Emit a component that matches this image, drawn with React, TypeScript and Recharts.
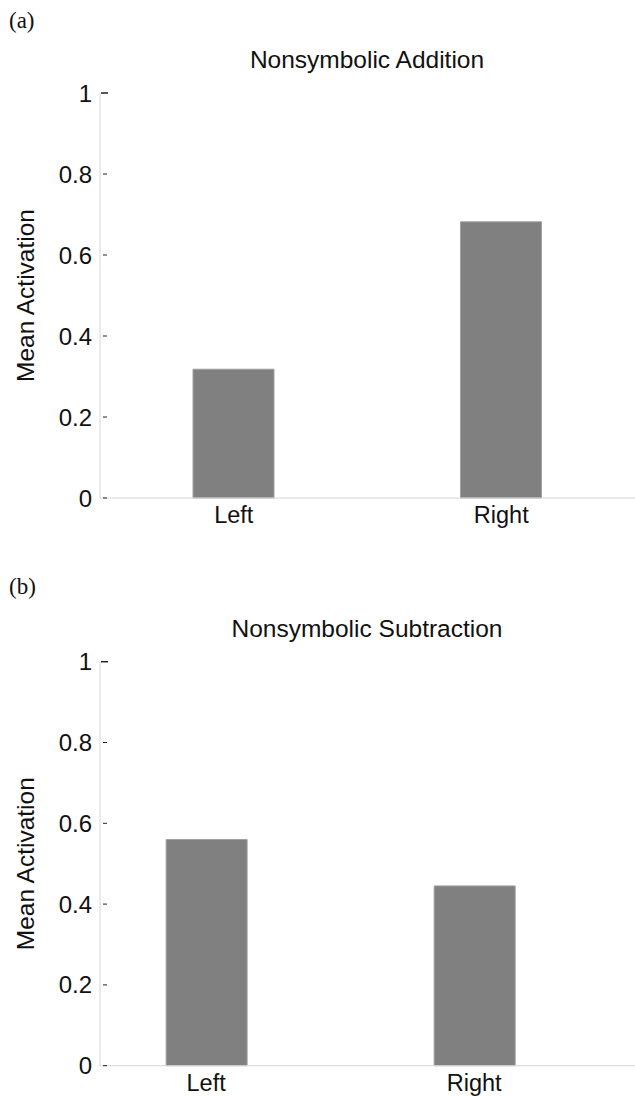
import React from 'react';
import { BarChart, Bar, XAxis, YAxis, Label } from 'recharts';

const categories = ['Left', 'Right'];
const categoryPositions = [1, 2];
const additionValues = [0.318, 0.682];
const subtractionValues = [0.56, 0.445];
const yTicks = [0, 0.2, 0.4, 0.6, 0.8, 1];
const yTickLabels = ['0', '0.2', '0.4', '0.6', '0.8', '1'];
const additionXDomain = [0.5, 2.5];
const subtractionXDomain = [0.604, 2.6];
const titles = ['Nonsymbolic Addition', 'Nonsymbolic Subtraction'];
const panelTags = ['(a)', '(b)'];
const yAxisTitle = 'Mean Activation';

const SANS = '"Liberation Sans", Arial, Helvetica, sans-serif';
const SERIF = '"Liberation Serif", "Times New Roman", serif';

const XTick = (props: any) => {
  const { x, y, payload } = props;
  const idx = categoryPositions.indexOf(payload.value);
  return (
    <text x={x} y={y + 25} textAnchor="middle" fontFamily={SANS} fontSize={23.5} fill="#111">
      {categories[idx] ?? ''}
    </text>
  );
};

const YTick = (props: any) => {
  const { x, y, payload } = props;
  const idx = yTicks.indexOf(payload.value);
  const isTop = payload.value === 1;
  return (
    <g>
      <text x={x - 8} y={y} textAnchor="end" dominantBaseline="central" fontFamily={SANS} fontSize={24} fill="#111">
        {yTickLabels[idx] ?? ''}
      </text>
      <line x1={isTop ? x + 1 : x + 3} x2={isTop ? x + 8 : x + 7} y1={y} y2={y} stroke="#222" strokeWidth={isTop ? 1.5 : 1} />
    </g>
  );
};

const YLabel = (props: any) => {
  const vb = props.viewBox || {};
  const cy = vb.y + vb.height / 2;
  return (
    <text
      transform={`translate(25, ${cy}) rotate(-90)`}
      textAnchor="middle"
      dominantBaseline="central"
      fontFamily={SANS}
      fontSize={24.5}
      fill="#111"
    >
      {yAxisTitle}
    </text>
  );
};

type PanelProps = {
  top: number;
  height: number;
  plotTop: number;
  plotBottom: number;
  values: number[];
  xDomain: number[];
};

const Panel = ({ top, height, plotTop, plotBottom, values, xDomain }: PanelProps) => {
  const data = categories.map((c, i) => ({ x: categoryPositions[i], value: values[i], name: c }));
  const xAxisHeight = 30;
  return (
    <div style={{ position: 'absolute', left: 0, top, width: 635, height }}>
      <BarChart
        width={635}
        height={height}
        data={data}
        margin={{ top: plotTop, bottom: height - plotBottom - xAxisHeight, left: 0, right: 0 }}
      >
        <XAxis
          dataKey="x"
          type="number"
          domain={xDomain}
          ticks={categoryPositions}
          allowDataOverflow
          tickLine={false}
          tickSize={0}
          tickMargin={0}
          height={xAxisHeight}
          tick={XTick}
          axisLine={{ stroke: '#d6d6d6', strokeWidth: 1 }}
        />
        <YAxis
          type="number"
          domain={[0, 1]}
          ticks={yTicks}
          width={100}
          tickLine={false}
          tickSize={0}
          tickMargin={0}
          tick={YTick}
          axisLine={{ stroke: '#d6d6d6', strokeWidth: 1 }}
        >
          <Label content={YLabel} />
        </YAxis>
        <Bar dataKey="value" fill="#808080" stroke="#a0a0a0" strokeWidth={1} barSize={81} isAnimationActive={false} />
      </BarChart>
    </div>
  );
};

export default function App() {
  return (
    <div style={{ position: 'absolute', left: 0, top: 0, width: 635, height: 1096, background: '#fff' }}>
      <Panel top={0} height={548} plotTop={93} plotBottom={498} values={additionValues} xDomain={additionXDomain} />
      <Panel top={548} height={548} plotTop={113.7} plotBottom={517.7} values={subtractionValues} xDomain={subtractionXDomain} />
      <svg width={635} height={1096} style={{ position: 'absolute', left: 0, top: 0, pointerEvents: 'none' }}>
        <text x={9} y={28} fontFamily={SERIF} fontSize={23} fill="#111">{panelTags[0]}</text>
        <text x={367} y={68} textAnchor="middle" fontFamily={SANS} fontSize={24.5} fill="#111">{titles[0]}</text>
        <text x={9} y={594} fontFamily={SERIF} fontSize={23} fill="#111">{panelTags[1]}</text>
        <text x={367} y={636.7} textAnchor="middle" fontFamily={SANS} fontSize={24.5} fill="#111">{titles[1]}</text>
      </svg>
    </div>
  );
}
